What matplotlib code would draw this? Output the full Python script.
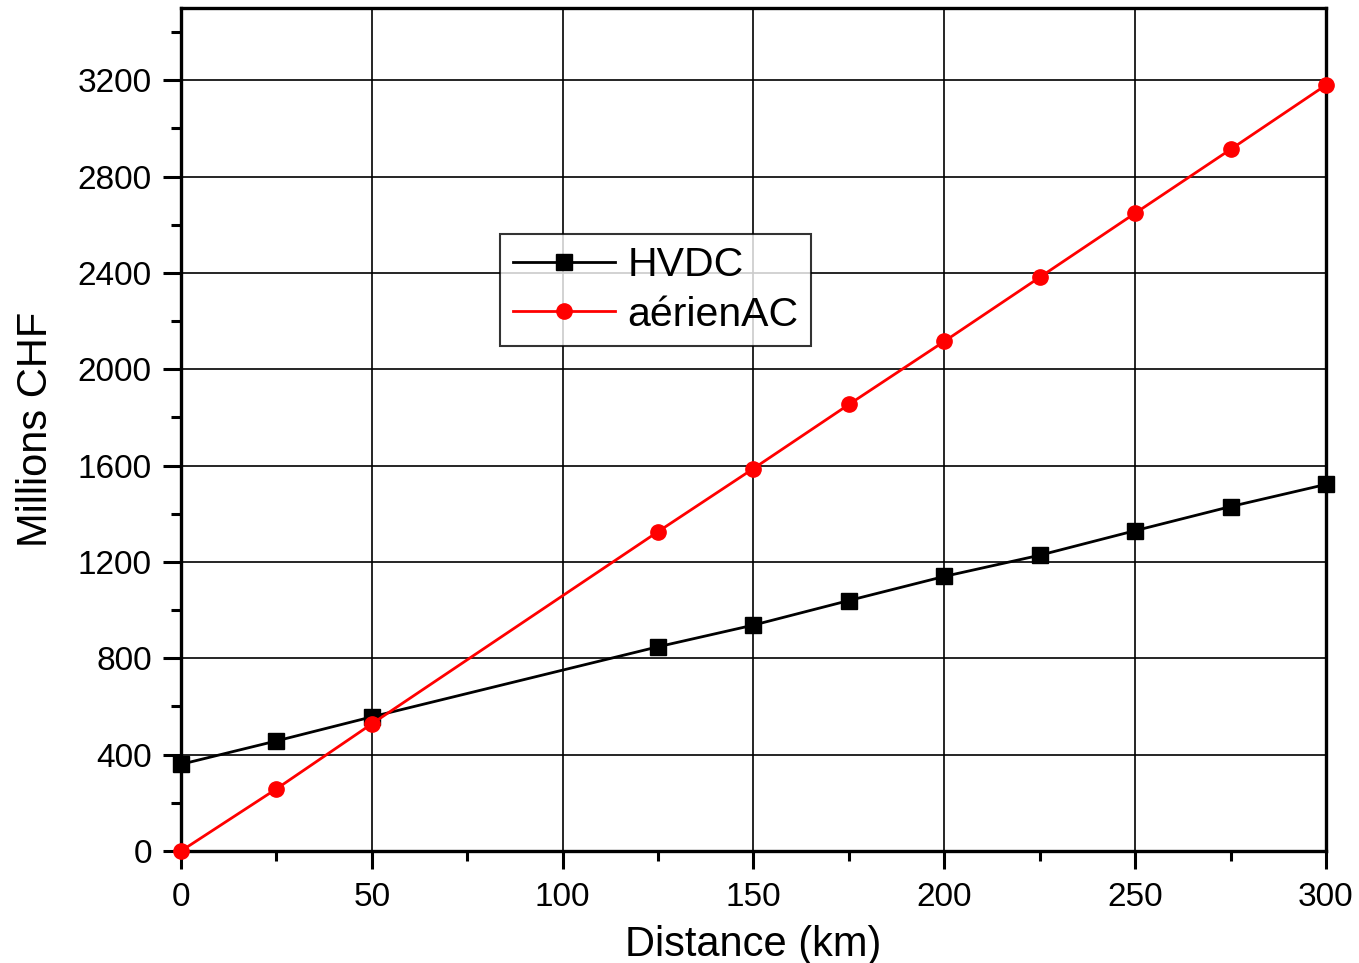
import matplotlib
matplotlib.use("Agg")
import matplotlib.pyplot as plt
from matplotlib.ticker import MultipleLocator

plt.rcParams['font.family'] = ['Liberation Sans', 'DejaVu Sans']

distance = [0, 25, 50, 125, 150, 175, 200, 225, 250, 275, 300]
hvdc = [360, 457, 557, 848, 938, 1040, 1140, 1228, 1330, 1430, 1522]
aerien_ac = [0, 258, 528, 1326, 1588, 1854, 2116, 2382, 2648, 2913, 3180]

fig = plt.figure(figsize=(13.59, 9.63), dpi=100)
ax = fig.add_axes([0.1332, 0.1163, 0.9757 - 0.1332, 0.9917 - 0.1163])

ax.plot(distance, hvdc, color='black', lw=2.0, marker='s', ms=11,
        label='HVDC', zorder=3, clip_on=False)
ax.plot(distance, aerien_ac, color='red', lw=2.0, marker='o', ms=11,
        label='aérienAC', zorder=4, clip_on=False)

ax.set_xlim(0, 300)
ax.set_ylim(0, 3500)
ax.xaxis.set_major_locator(MultipleLocator(50))
ax.xaxis.set_minor_locator(MultipleLocator(25))
ax.yaxis.set_major_locator(MultipleLocator(400))
ax.yaxis.set_minor_locator(MultipleLocator(200))

ax.grid(True, which='major', color='black', lw=1.2)
ax.set_axisbelow(True)

for s in ax.spines.values():
    s.set_linewidth(2.4)

ax.tick_params(which='major', direction='out', length=13, width=2.2,
               labelsize=24, pad=8, top=False, right=False)
ax.tick_params(which='minor', direction='out', length=7, width=2.2,
               top=False, right=False)
ax.tick_params(axis='x', pad=9)

ax.set_xlabel('Distance (km)', fontsize=30, labelpad=9)
ax.set_ylabel('Millions CHF', fontsize=30, labelpad=16)

leg = ax.legend(loc='upper left', bbox_to_anchor=(0.279, 0.732), fontsize=29.5,
                frameon=True, fancybox=False, edgecolor='black',
                handlelength=2.5, borderpad=0.3, labelspacing=0.28,
                handletextpad=0.3, borderaxespad=0)
leg.get_frame().set_linewidth(1.5)

fig.savefig('out.png', dpi=100)
